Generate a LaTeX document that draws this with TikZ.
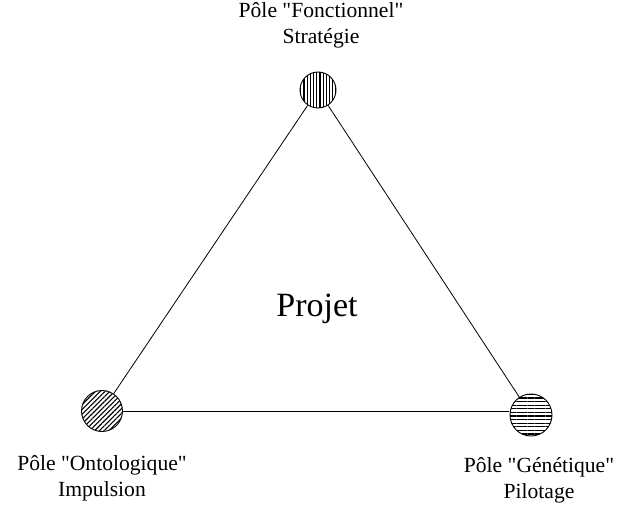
\documentclass[tikz,border=0pt]{standalone}
\usepackage{fontspec}
\setmainfont{Liberation Serif}
\usetikzlibrary{patterns.meta}
\tikzset{
    pole/.style={circle, draw, line width=0.9pt, inner sep=0pt},
    poletext/.style={align=center, inner sep=0pt, font=\fontsize{21.6}{26}\selectfont},
    edge/.style={line width=0.8pt}
}
\begin{document}
\begin{tikzpicture}[x=1pt,y=-1pt]
        \useasboundingbox (0,0) rectangle (622,506);
        \node[pole, minimum size=36pt, pattern={Lines[angle=90,distance=3.2pt,line width=1.1pt]}] (fonc) at (318,90) {};
        \node[pole, minimum size=41pt, pattern={Lines[angle=45,distance=3.4pt,line width=1.1pt]}] (onto) at (102,411) {};
        \node[pole, minimum size=42pt, pattern={Lines[angle=0,distance=3.6pt,line width=1.1pt]}] (gene) at (531,415) {};
        \node[poletext] (foncl) at (321,25) {Pôle \textquotedbl Fonctionnel\textquotedbl\\Stratégie};
        \node[poletext] (ontol) at (102,478) {Pôle \textquotedbl Ontologique\textquotedbl\\Impulsion};
        \node[poletext] (genel) at (539,480) {Pôle \textquotedbl Génétique\textquotedbl\\Pilotage};
        \node[anchor=base, inner sep=0pt, font=\fontsize{34}{40}\selectfont] (projet) at (317,316.5) {Projet};
        \draw[edge] (fonc) -- (onto);
        \draw[edge] (fonc) -- (gene);
        \draw[edge] (onto.east) -- (gene.west |- onto.east);
    \end{tikzpicture}
\end{document}
